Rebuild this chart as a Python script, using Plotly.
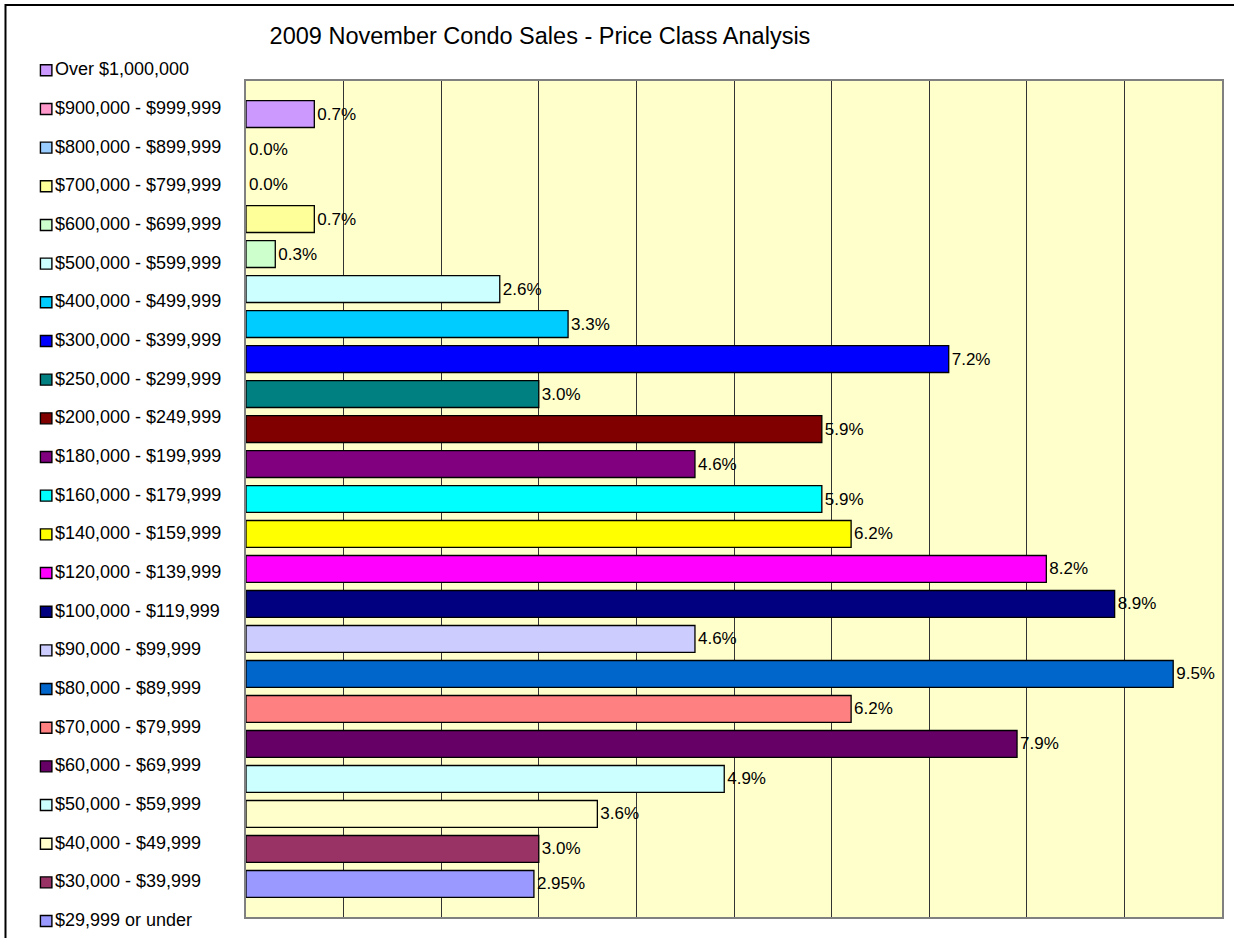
import plotly.graph_objects as go

# price classes, top to bottom as in the legend
price_classes = [
    "Over $1,000,000", "$900,000 - $999,999", "$800,000 - $899,999",
    "$700,000 - $799,999", "$600,000 - $699,999", "$500,000 - $599,999",
    "$400,000 - $499,999", "$300,000 - $399,999", "$250,000 - $299,999",
    "$200,000 - $249,999", "$180,000 - $199,999", "$160,000 - $179,999",
    "$140,000 - $159,999", "$120,000 - $139,999", "$100,000 - $119,999",
    "$90,000 - $99,999", "$80,000 - $89,999", "$70,000 - $79,999",
    "$60,000 - $69,999", "$50,000 - $59,999", "$40,000 - $49,999",
    "$30,000 - $39,999", "$29,999 or under",
]
share_pct = [0.7, 0.0, 0.0, 0.7, 0.3, 2.6, 3.3, 7.2, 3.0, 5.9, 4.6, 5.9,
             6.2, 8.2, 8.9, 4.6, 9.5, 6.2, 7.9, 4.9, 3.6, 3.0, 2.95]
share_labels = ["0.7%", "0.0%", "0.0%", "0.7%", "0.3%", "2.6%", "3.3%",
                "7.2%", "3.0%", "5.9%", "4.6%", "5.9%", "6.2%", "8.2%",
                "8.9%", "4.6%", "9.5%", "6.2%", "7.9%", "4.9%", "3.6%",
                "3.0%", "2.95%"]
bar_colors = ["#CC99FF", "#FF99CC", "#99CCFF", "#FFFF99", "#CCFFCC",
              "#CCFFFF", "#00CCFF", "#0000FF", "#008080", "#800000",
              "#800080", "#00FFFF", "#FFFF00", "#FF00FF", "#000080",
              "#CCCCFF", "#0066CC", "#FF8080", "#660066", "#CCFFFF",
              "#FFFFCC", "#993366", "#9999FF"]

FONT = "Arial, Liberation Sans, sans-serif"
W, H = 1234, 938
ML, MR, MT, MB = 246, 10, 81, 21
PW, PH = W - ML - MR, H - MT - MB


def px_x(px):
    return (px - ML) / PW


def px_y(py):
    return (H - MB - py) / PH


fig = go.Figure()
for cat, val, lab, col in zip(price_classes, share_pct, share_labels, bar_colors):
    fig.add_trace(go.Bar(
        y=[cat], x=[val], orientation="h", name=cat,
        marker=dict(color=col, line=dict(color="black", width=1.3 if val > 0 else 0)),
        text=[lab], textposition="outside", cliponaxis=False,
        outsidetextfont=dict(color="black", size=17, family=FONT),
        hoverinfo="name+x",
    ))

# legend drawn by hand, Excel-style, down the left side
for i, (cat, col) in enumerate(zip(price_classes, bar_colors)):
    cy = 70.3 + i * 38.67
    fig.add_shape(type="rect", xref="paper", yref="paper",
                  x0=px_x(40), x1=px_x(51.5), y0=px_y(cy + 5.5), y1=px_y(cy - 5.5),
                  fillcolor=col, line=dict(color="black", width=1.4))
    fig.add_annotation(xref="paper", yref="paper", x=px_x(53), y=px_y(cy - 1),
                       text=cat, showarrow=False, xanchor="left", yanchor="middle",
                       font=dict(size=18, family=FONT, color="black"))

n = len(price_classes)
fig.update_layout(
    width=W, height=H,
    margin=dict(l=ML, r=MR, t=MT, b=MB),
    paper_bgcolor="white", plot_bgcolor="#FFFFCC",
    barmode="overlay", bargap=0.23,
    font=dict(family=FONT, color="black"),
    title=dict(text="2009 November Condo Sales - Price Class Analysis",
               x=540 / W, xanchor="center", y=1 - 36 / H, yanchor="middle",
               font=dict(size=23.5, family=FONT, color="black")),
    showlegend=False,
    xaxis=dict(range=[0, 10], dtick=1, showgrid=True, gridcolor="#333333",
               gridwidth=1, showticklabels=False, ticks="", zeroline=False,
               showline=True, linecolor="#808080", linewidth=2, mirror=True),
    yaxis=dict(type="category", categoryorder="array", categoryarray=price_classes,
               range=[n - 1 + 0.943, -0.943], showticklabels=False, ticks="",
               showgrid=False, zeroline=False,
               showline=True, linecolor="#808080", linewidth=2, mirror=True),
)

# outer chart border
fig.add_shape(type="rect", xref="paper", yref="paper",
              x0=px_x(5), x1=px_x(W + 10), y0=px_y(H + 10), y1=px_y(5),
              line=dict(color="black", width=2), fillcolor="rgba(0,0,0,0)",
              layer="below")

fig.write_html("out.html", config={"displayModeBar": False},
               post_script="document.body.style.margin = '0';")
